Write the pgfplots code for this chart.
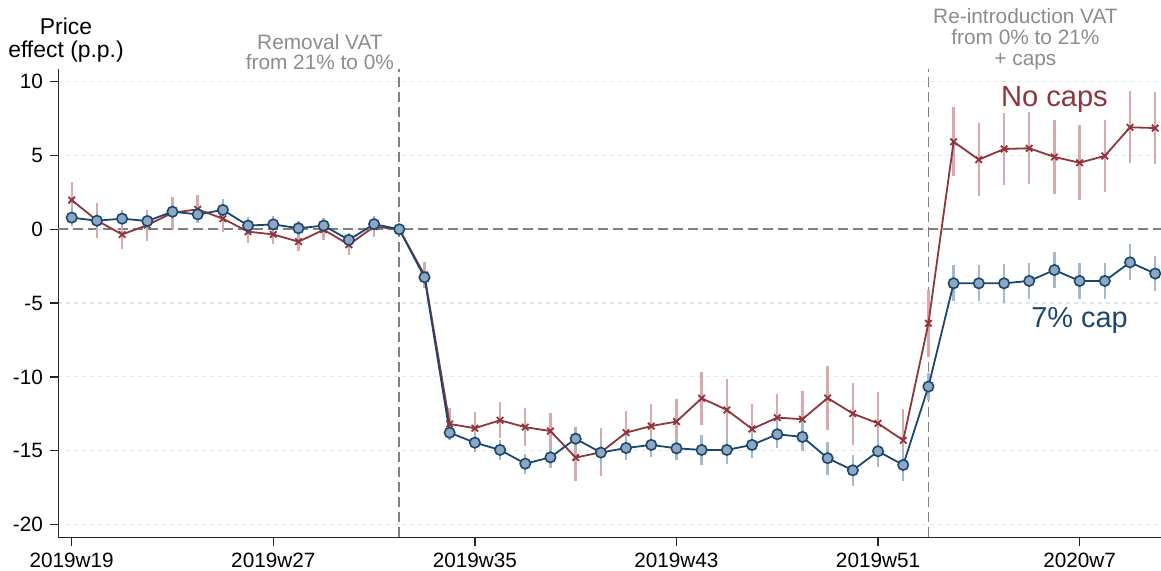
\documentclass[border=0pt]{standalone}
\usepackage{pgfplots}
\pgfplotsset{compat=1.18}
\usepackage{pgfplotstable}
\usepackage{fontspec}
\setmainfont{Liberation Sans}
\definecolor{cran}{RGB}{144,53,59}
\definecolor{navy}{RGB}{26,71,111}
\definecolor{navyfill}{RGB}{143,168,194}
\definecolor{cranbar}{RGB}{216,170,174}
\definecolor{navybar}{RGB}{165,185,205}
\definecolor{annot}{RGB}{140,140,140}
\definecolor{refline}{RGB}{128,128,128}
\definecolor{gridc}{RGB}{220,232,232}

\pgfplotstableread{
x y e
0 1.98 1.22
1 0.60 1.20
2 -0.35 1.00
3 0.28 1.05
4 1.12 1.10
5 1.35 0.95
6 0.72 0.90
7 -0.16 0.75
8 -0.35 0.65
9 -0.84 0.65
10 -0.03 0.72
11 -1.04 0.70
12 0.18 0.70
13 0.00 0.00
14 -3.09 0.90
15 -13.19 1.06
16 -13.48 1.10
17 -12.94 1.22
18 -13.41 1.30
19 -13.67 1.22
20 -15.47 1.58
21 -15.11 1.62
22 -13.78 1.47
23 -13.33 1.49
24 -13.03 1.53
25 -11.45 1.80
26 -12.24 2.10
27 -13.53 1.67
28 -12.76 1.60
29 -12.87 1.90
30 -11.43 2.14
31 -12.49 2.10
32 -13.15 2.15
33 -14.30 2.10
34 -6.37 2.25
35 5.93 2.33
36 4.72 2.46
37 5.44 2.45
38 5.49 2.44
39 4.90 2.52
40 4.51 2.54
41 4.97 2.46
42 6.91 2.43
43 6.86 2.45
}\redtab

\pgfplotstableread{
x y e
0 0.79 0.60
1 0.58 0.60
2 0.72 0.60
3 0.56 0.55
4 1.19 0.60
5 1.01 0.60
6 1.31 0.75
7 0.25 0.55
8 0.33 0.55
9 0.07 0.50
10 0.25 0.50
11 -0.72 0.50
12 0.35 0.50
13 0.00 0.00
14 -3.25 0.50
15 -13.78 0.50
16 -14.46 0.65
17 -14.95 0.68
18 -15.88 0.68
19 -15.45 0.73
20 -14.19 0.77
21 -15.13 0.90
22 -14.82 0.79
23 -14.61 0.79
24 -14.84 0.79
25 -14.95 1.00
26 -14.95 0.96
27 -14.61 0.90
28 -13.89 0.90
29 -14.07 0.96
30 -15.51 1.13
31 -16.33 1.07
32 -15.04 1.07
33 -15.97 1.07
34 -10.66 0.90
35 -3.66 1.21
36 -3.66 1.22
37 -3.66 1.31
38 -3.50 1.20
39 -2.76 1.24
40 -3.50 1.22
41 -3.50 1.22
42 -2.24 1.21
43 -3.00 1.20
}\bluetab

\begin{document}
\begin{tikzpicture}
\begin{axis}[
  scale only axis,
  width=551.35bp, height=234.15bp,
  xmin=-0.532, xmax=43.23,
  ymin=-20.87, ymax=10.86,
  axis x line*=bottom, axis y line*=left,
  axis line style={line width=0.65bp, black!85},
  xtick={0,8,16,24,32,40},
  xticklabels={2019w19,2019w27,2019w35,2019w43,2019w51,2020w7},
  ytick={-20,-15,-10,-5,0,5,10},
  yticklabels={-20,-15,-10,-5,0,5,10},
  tick align=outside,
  major tick length=4.2bp,
  tick style={line width=0.65bp, black!85},
  ticklabel style={font=\fontsize{10.4}{12}\selectfont},
  ymajorgrids,
  major grid style={gridc, line width=0.6bp, dash pattern=on 2bp off 2bp},
  clip=false,
]
\draw[refline, line width=0.9bp, dash pattern=on 5bp off 2.5bp] (axis cs:-0.532,0) -- (axis cs:43.23,0);
\draw[refline, line width=0.9bp, dash pattern=on 5bp off 2.5bp] (axis cs:13,-20.87) -- (axis cs:13,10.86);
\draw[refline, line width=0.9bp, dash pattern=on 5bp off 2.5bp] (axis cs:34,-20.87) -- (axis cs:34,10.86);

\addplot[draw=none, mark=none, forget plot,
  error bars/.cd, y dir=both, y explicit, error mark=none,
  error bar style={draw=cranbar, line width=1.2bp}]
  table[x=x, y=y, y error=e]{\redtab};
\addplot[draw=none, mark=none, forget plot,
  error bars/.cd, y dir=both, y explicit, error mark=none,
  error bar style={draw=navybar, line width=1.2bp}]
  table[x=x, y=y, y error=e]{\bluetab};

\addplot[cran, line width=0.9bp, mark=x, mark size=2.3bp,
  mark options={line width=0.9bp}]
  table[x=x, y=y]{\redtab};
\addplot[navy, line width=0.9bp, mark=*, mark size=2.6bp,
  mark options={fill=navyfill, draw=navy, line width=0.8bp}]
  table[x=x, y=y]{\bluetab};

\node[annot, anchor=base, font=\fontsize{10.45}{12}\selectfont, inner sep=0pt] at (axis cs:9.85,12.195) {Removal VAT};
\node[annot, anchor=base, font=\fontsize{10.45}{12}\selectfont, inner sep=0pt] at (axis cs:9.85,10.84) {from 21\% to 0\%};
\node[annot, anchor=base, font=\fontsize{10.45}{12}\selectfont, inner sep=0pt] at (axis cs:37.85,13.96) {Re-introduction VAT};
\node[annot, anchor=base, font=\fontsize{10.45}{12}\selectfont, inner sep=0pt] at (axis cs:37.85,12.49) {from 0\% to 21\%};
\node[annot, anchor=base, font=\fontsize{10.45}{12}\selectfont, inner sep=0pt] at (axis cs:37.85,11.13) {+ caps};
\node[black, anchor=base, font=\fontsize{11.5}{13}\selectfont, inner sep=0pt] at (axis cs:-0.226,13.21) {Price};
\node[black, anchor=base, font=\fontsize{11.5}{13}\selectfont, inner sep=0pt] at (axis cs:-0.226,11.65) {effect (p.p.)};
\node[cran, anchor=base, font=\fontsize{14.6}{17}\selectfont, inner sep=0pt] at (axis cs:39.0,8.31) {No caps};
\node[navy, anchor=base, font=\fontsize{14.5}{17}\selectfont, inner sep=0pt] at (axis cs:40.0,-6.64) {7\% cap};
\end{axis}
\pgfresetboundingbox
\path[use as bounding box] (-29.15bp,-16.85bp) rectangle (551.35bp,268.65bp);
\end{tikzpicture}
\end{document}
